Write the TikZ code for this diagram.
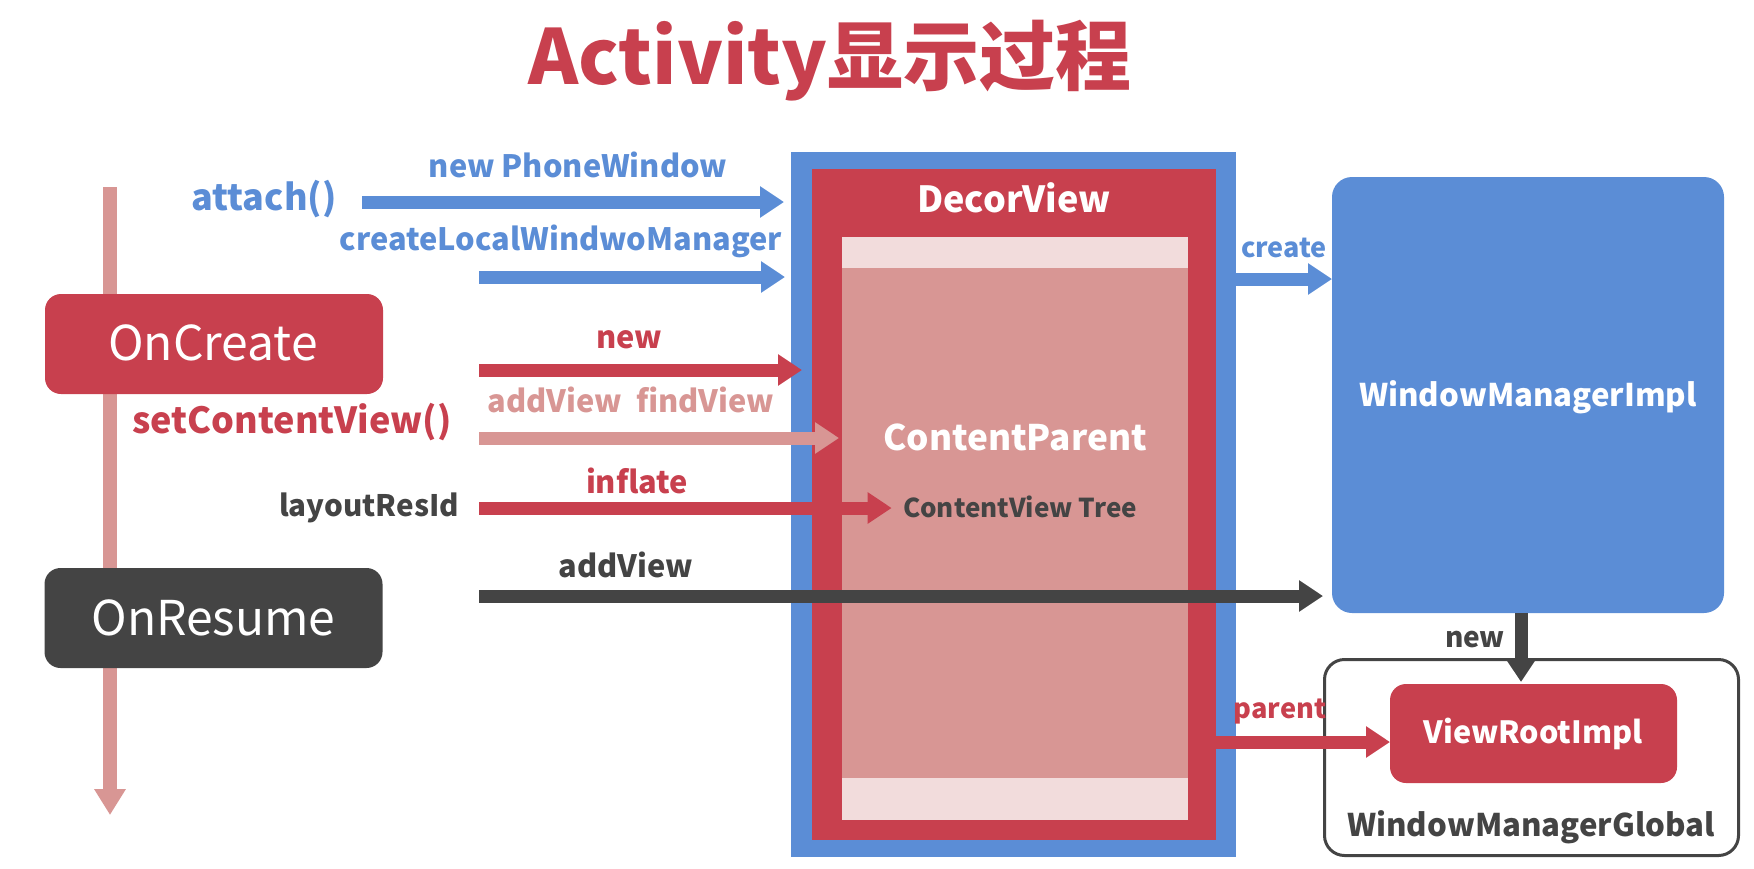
\documentclass[tikz,border=0pt]{standalone}
\usepackage{fontspec}
\setmainfont{Noto Sans CJK SC}
\usetikzlibrary{arrows.meta}
\definecolor{cred}{HTML}{C8404E}
\definecolor{cpink}{HTML}{D89694}
\definecolor{clight}{HTML}{F2DCDC}
\definecolor{cblue}{HTML}{5B8DD6}
\definecolor{cdark}{HTML}{444444}
\newcommand{\fs}[1]{\fontsize{#1}{#1}\selectfont}
\begin{document}
\begin{tikzpicture}[x=0.5pt,y=-0.5pt,
  txt/.style={inner sep=0pt, anchor=base},
  lbl/.style={txt, font=\fs{15.4}\bfseries},
  flat/.style={inner sep=0pt, outer sep=0pt},
  arr/.style={line width=6.5pt, -{Triangle[length=12pt 0 0,width=15pt 0 0]}},
  stage/.style={flat, rounded corners=8pt, minimum width=169pt, minimum height=50pt},
]
\useasboundingbox (0,0) rectangle (1754,868);

% title
\node[txt, text=cred, font=\fs{38}\bfseries] (title) at (830,84) {Activity显示过程};

% timeline
\coordinate (tlTop) at (110,187);
\coordinate (tlBot) at (110,815);
\draw[line width=7pt, cpink, -{Triangle[length=13pt 0 0,width=15pt 0 0]}] (tlTop) -- (tlBot);

% stages
\node[stage, fill=cred] (oncreate) at (214,344) {};
\node[txt, text=white, font=\fs{24}] at (213,360) {OnCreate};
\node[stage, fill=cdark] (onresume) at (213.5,618) {};
\node[txt, text=white, font=\fs{24}] at (213.5,635) {OnResume};

% DecorView block
\node[flat, fill=cblue, minimum width=222.5pt, minimum height=352.5pt] (blue) at (1013.5,504.5) {};
\node[flat, fill=cred, minimum width=202pt, minimum height=335.5pt] (red) at (1014,504.5) {};
\node[flat, fill=clight, minimum width=173pt, minimum height=291.5pt] (content) at (1015,528.5) {};
\node[flat, fill=cpink, minimum width=173pt, minimum height=255pt] (cparent) at (1015,523) {};
\node[txt, text=white, font=\fs{18}\bfseries] (decortxt) at (1014,212) {DecorView};
\node[txt, text=white, font=\fs{17.6}\bfseries] (cptxt) at (1015,450) {ContentParent};
\node[txt, text=cdark, font=\fs{13}\bfseries] (cvt) at (1020,517) {ContentView Tree};

% right side
\node[flat, fill=cblue, rounded corners=10pt, minimum width=196pt, minimum height=218pt] (wmi) at (1528,395) {};
\node[txt, text=white, font=\fs{15.6}\bfseries] at (1528,406) {WindowManagerImpl};
\node[flat, draw=cdark, line width=1.5pt, fill=white, rounded corners=10pt, minimum width=207pt, minimum height=98pt] (wmg) at (1531.5,757.5) {};
\node[flat, fill=cred, rounded corners=8pt, minimum width=143.5pt, minimum height=49.5pt] (vri) at (1533.5,733.5) {};
\node[txt, text=white, font=\fs{15.3}\bfseries] at (1533,743) {ViewRootImpl};
\node[txt, text=cdark, font=\fs{15.6}\bfseries] at (1531,836) {WindowManagerGlobal};

% left labels
\node[txt, text=cblue, font=\fs{18}\bfseries] (attach) at (264,210) {attach()};
\node[txt, text=cred, font=\fs{18}\bfseries] (setcv) at (292,433) {setContentView()};
\node[txt, text=cdark, font=\fs{14.8}\bfseries] (layout) at (369,516) {layoutResId};

% arrow labels
\node[lbl, text=cblue] at (578,177) {new PhoneWindow};
\node[lbl, text=cblue] at (561,250) {createLocalWindwoManager};
\node[lbl, text=cred] at (629,348) {new};
\node[lbl, text=cpink] at (631,412) {addView\ \ findView};
\node[lbl, text=cred] at (637,493) {inflate};
\node[lbl, text=cdark] at (626,577) {addView};
\node[txt, text=cblue, font=\fs{13.5}\bfseries] at (1284,257) {create};
\node[txt, text=cdark, font=\fs{14}\bfseries] at (1475,647) {new};
\node[txt, text=cred, font=\fs{13.6}\bfseries] at (1280,718) {parent};

% arrow coordinates
\coordinate (a1) at (362,202);
\coordinate (a2) at (479,277);
\coordinate (a3) at (479,370);
\coordinate (a4) at (479,438);
\coordinate (a5) at (479,508);
\coordinate (a6) at (479,596);
\coordinate (a7) at (1236,279);
\coordinate (a8) at (1521,613);
\coordinate (a9) at (1216,742);

\draw[arr, cblue, shorten >=3.5pt] (a1) -- (a1 -| blue.west);
\draw[arr, cblue, shorten >=3pt] (a2) -- (a2 -| blue.west);
\draw[arr, cred, shorten >=-5.5pt] (a3) -- (a3 -| blue.west);
\draw[arr, cpink, shorten >=1.5pt] (a4) -- (a4 -| content.west);
\draw[arr, cred, shorten >=5.5pt] (a5) -- (a5 -| cvt.west);
\draw[arr, cdark, shorten >=4.5pt] (a6) -- (a6 -| wmi.west);
\draw[arr, cblue] (a7) -- (a7 -| wmi.west);
\draw[arr, cdark, shorten >=1pt] (a8) -- (a8 |- vri.north);
\draw[arr, cred] (a9) -- (a9 -| vri.west);
\end{tikzpicture}
\end{document}
